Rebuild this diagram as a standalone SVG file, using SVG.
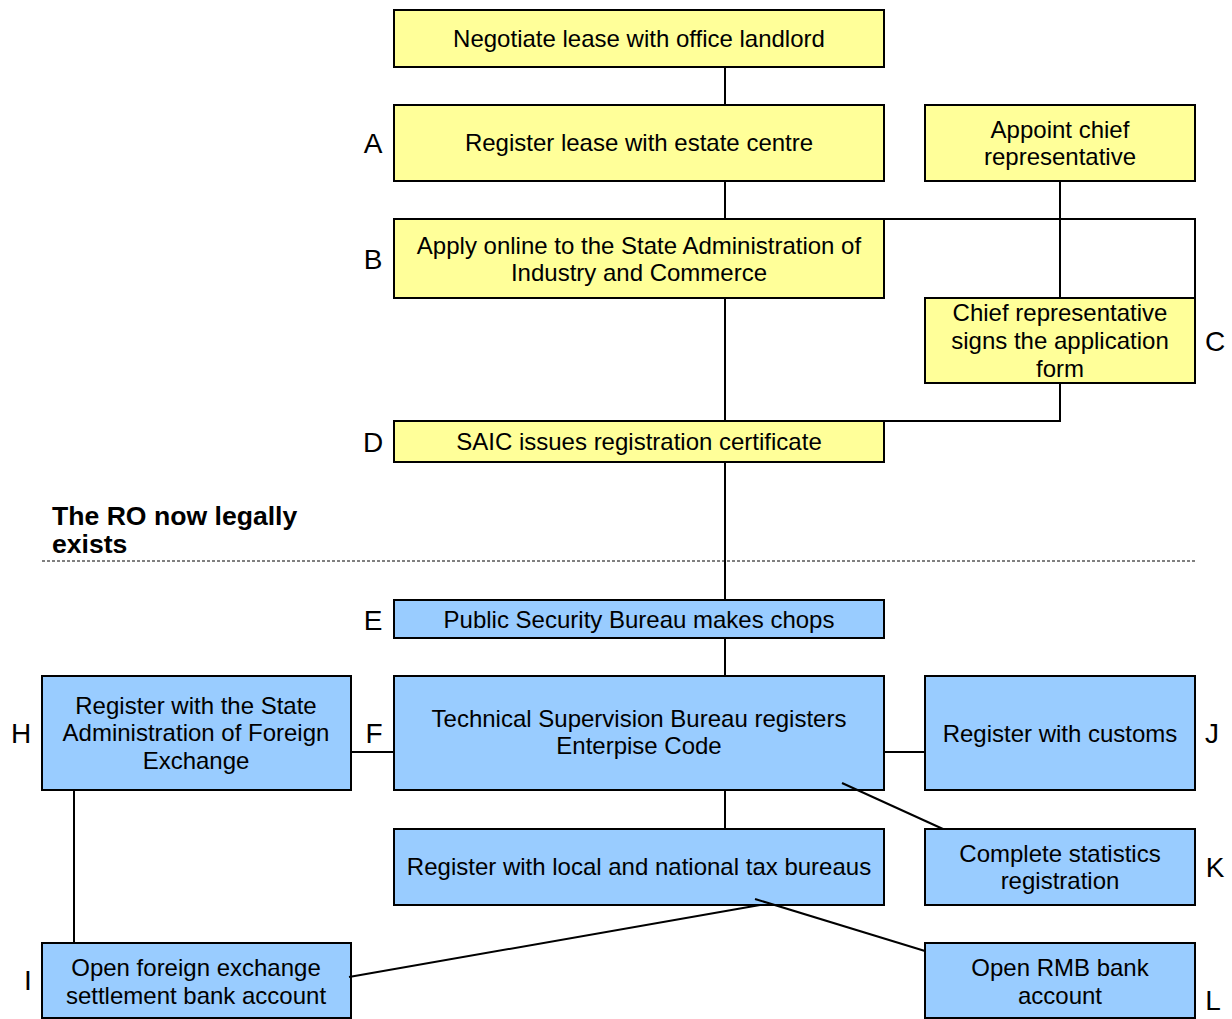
<svg xmlns="http://www.w3.org/2000/svg" width="1232" height="1019" viewBox="0 0 1232 1019">
<style>
.y{fill:#FFFF99;stroke:#000;stroke-width:2}
.b{fill:#99CCFF;stroke:#000;stroke-width:2}
.t{font-family:"Liberation Sans",Arial,sans-serif;font-size:24px;fill:#000;text-anchor:middle}
.l{font-family:"Liberation Sans",Arial,sans-serif;font-size:28px;fill:#000;text-anchor:middle}
.h{font-family:"Liberation Sans",Arial,sans-serif;font-size:26.6px;font-weight:bold;fill:#000}
#connectors line,#connectors polyline{stroke:#000;stroke-width:2;fill:none}
</style>
<rect width="1232" height="1019" fill="#fff"/>
<line id="divider" x1="42" y1="561" x2="1195" y2="561" stroke="#000" stroke-width="1" stroke-dasharray="3,2"/>
<text class="h" x="52" y="525">The RO now legally</text>
<text class="h" x="52" y="553">exists</text>
<g id="negotiate"><rect class="y" x="394" y="10" width="490" height="57"/><text class="t" x="639" y="47">Negotiate lease with office landlord</text></g>
<g id="A"><rect class="y" x="394" y="105" width="490" height="76"/><text class="t" x="639" y="151">Register lease with estate centre</text><text class="l" x="373" y="153">A</text></g>
<g id="appoint"><rect class="y" x="925" y="105" width="270" height="76"/><text class="t" x="1060" y="138">Appoint chief</text><text class="t" x="1060" y="165">representative</text></g>
<g id="B"><rect class="y" x="394" y="219" width="490" height="79"/><text class="t" x="639" y="254">Apply online to the State Administration of</text><text class="t" x="639" y="281">Industry and Commerce</text><text class="l" x="373" y="269">B</text></g>
<g id="C"><rect class="y" x="925" y="298" width="270" height="85"/><text class="t" x="1060" y="321">Chief representative</text><text class="t" x="1060" y="349">signs the application</text><text class="t" x="1060" y="377">form</text><text class="l" x="1215" y="351">C</text></g>
<g id="D"><rect class="y" x="394" y="421" width="490" height="41"/><text class="t" x="639" y="450">SAIC issues registration certificate</text><text class="l" x="373" y="452">D</text></g>
<g id="E"><rect class="b" x="394" y="600" width="490" height="38"/><text class="t" x="639" y="628">Public Security Bureau makes chops</text><text class="l" x="373" y="630">E</text></g>
<g id="H"><rect class="b" x="42" y="676" width="309" height="114"/><text class="t" x="196" y="714">Register with the State</text><text class="t" x="196" y="741">Administration of Foreign</text><text class="t" x="196" y="769">Exchange</text><text class="l" x="21" y="743">H</text></g>
<g id="F"><rect class="b" x="394" y="676" width="490" height="114"/><text class="t" x="639" y="727">Technical Supervision Bureau registers</text><text class="t" x="639" y="754">Enterpise Code</text><text class="l" x="374" y="743">F</text></g>
<g id="J"><rect class="b" x="925" y="676" width="270" height="114"/><text class="t" x="1060" y="742">Register with customs</text><text class="l" x="1212" y="743">J</text></g>
<g id="tax"><rect class="b" x="394" y="829" width="490" height="76"/><text class="t" x="639" y="875">Register with local and national tax bureaus</text></g>
<g id="K"><rect class="b" x="925" y="829" width="270" height="76"/><text class="t" x="1060" y="862">Complete statistics</text><text class="t" x="1060" y="889">registration</text><text class="l" x="1215" y="877">K</text></g>
<g id="I"><rect class="b" x="42" y="943" width="309" height="75"/><text class="t" x="196" y="976">Open foreign exchange</text><text class="t" x="196" y="1004">settlement bank account</text><text class="l" x="28" y="990">I</text></g>
<g id="L"><rect class="b" x="925" y="943" width="270" height="75"/><text class="t" x="1060" y="976">Open RMB bank</text><text class="t" x="1060" y="1004">account</text><text class="l" x="1213" y="1010">L</text></g>
<g id="connectors">
<line x1="725" y1="67" x2="725" y2="105"/>
<line x1="725" y1="181" x2="725" y2="219"/>
<polyline points="884,219 1195,219 1195,298"/>
<line x1="1060" y1="181" x2="1060" y2="298"/>
<line x1="725" y1="298" x2="725" y2="421"/>
<polyline points="1060,383 1060,421 884,421"/>
<line x1="725" y1="462" x2="725" y2="600"/>
<line x1="725" y1="638" x2="725" y2="676"/>
<line x1="351" y1="752" x2="394" y2="752"/>
<line x1="884" y1="752" x2="925" y2="752"/>
<line x1="725" y1="790" x2="725" y2="829"/>
<line x1="842" y1="783" x2="943" y2="829"/>
<line x1="74" y1="790" x2="74" y2="943"/>
<line x1="760" y1="905" x2="349" y2="977"/>
<line x1="755" y1="899" x2="925" y2="951"/>
</g>
</svg>
